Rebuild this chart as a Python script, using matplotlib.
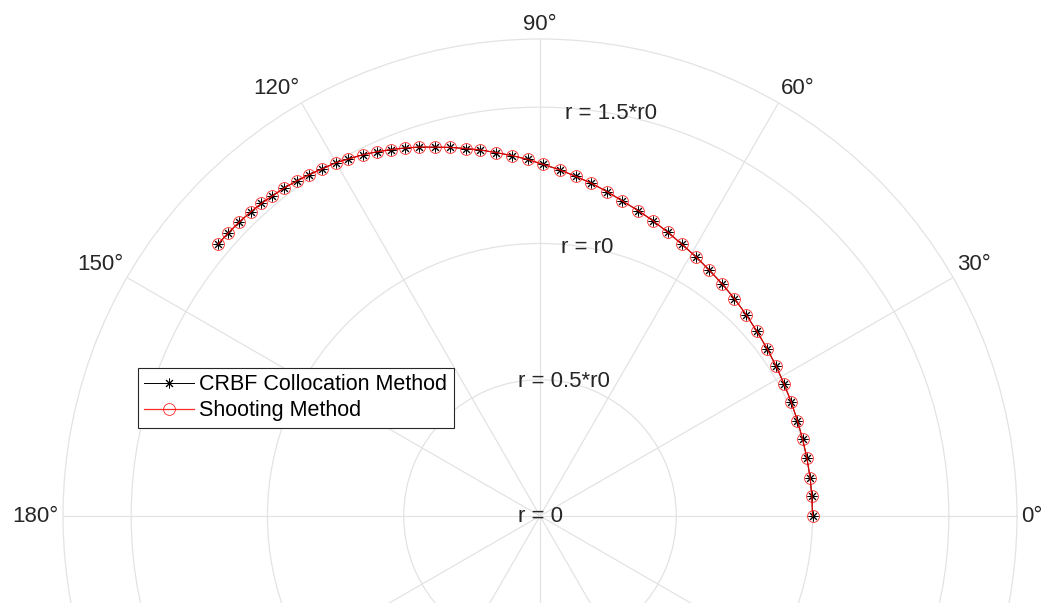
import numpy as np
import matplotlib
matplotlib.use("Agg")
import matplotlib.pyplot as plt

plt.rcParams['font.family'] = ['Liberation Sans', 'DejaVu Sans']

# angle (deg) and radius (in units of r0)
theta_deg = [0.0, 4.2, 8.1, 12.2, 16.3, 20.3, 24.4, 28.4, 32.4, 36.4,
             40.4, 44.3, 48.2, 51.8, 55.4, 59.0, 62.5, 65.8, 69.1, 72.2,
             75.4, 78.3, 81.2, 84.0, 86.7, 89.5, 92.0, 94.4, 96.9, 99.3,
             101.4, 103.7, 105.9, 108.1, 110.1, 112.1, 114.1, 116.1, 118.3, 120.0,
             122.2, 124.1, 126.0, 127.9, 129.9, 131.7, 133.6, 135.7, 137.8, 139.8]
r_crbf = [1.000, 1.000, 1.001, 1.002, 1.004, 1.007, 1.012, 1.018, 1.026, 1.035,
          1.045, 1.057, 1.070, 1.082, 1.095, 1.110, 1.125, 1.142, 1.160, 1.177,
          1.195, 1.215, 1.235, 1.253, 1.272, 1.290, 1.309, 1.326, 1.343, 1.361,
          1.375, 1.392, 1.407, 1.424, 1.438, 1.451, 1.464, 1.476, 1.487, 1.497,
          1.504, 1.512, 1.519, 1.526, 1.531, 1.536, 1.540, 1.543, 1.545, 1.546]
r_shooting = list(r_crbf)  # the two solutions lie on top of each other

r_ticks = [0, 0.5, 1.0, 1.5]
r_ticklabels = ['r = 0', 'r = 0.5*r0', 'r = r0', 'r = 1.5*r0']
r_max = 1.75
theta_ticks = list(range(0, 360, 30))
theta_labelled = [0, 30, 60, 90, 120, 150, 180]  # lower half is cropped away
series_labels = ['CRBF Collocation Method', 'Shooting Method']

text_color = '#262626'
grid_color = '#e3e3e3'

fig = plt.figure(figsize=(10.45, 6.03), dpi=100)
# polar axes is bigger than the figure, only the upper part is visible
ax = fig.add_axes([63 / 1045, -390 / 603, 954 / 1045, 954 / 603], projection='polar')

th = np.deg2rad(theta_deg)
ax.plot(th, r_crbf, color='k', lw=0.7, marker=(8, 2, 0), ms=7, mew=0.7,
        label=series_labels[0])
ax.plot(th, r_shooting, color='r', lw=0.9, marker='o', ms=8.5, mew=0.6,
        mfc='none', alpha=0.85, label=series_labels[1])

ax.set_rlim(0, r_max)
ax.set_rticks(r_ticks[1:])
ax.set_yticklabels([])
ax.set_thetagrids(theta_ticks, labels=[''] * len(theta_ticks))
ax.grid(True, color=grid_color, lw=0.9)
ax.spines['polar'].set_color(grid_color)
ax.spines['polar'].set_linewidth(0.9)
ax.tick_params(length=0)

# theta labels, aligned by edge like matlab does
for a in theta_labelled:
    c, s = np.cos(np.deg2rad(a)), np.sin(np.deg2rad(a))
    ha = 'left' if c > 0.1 else ('right' if c < -0.1 else 'center')
    va = 'bottom' if s > 0.1 else ('top' if s < -0.1 else 'center')
    ax.annotate('%d°' % a, xy=(np.deg2rad(a), r_max), xytext=(3 * c, 3 * s),
                textcoords='offset points', ha=ha, va=va, fontsize=16,
                color=text_color, annotation_clip=False)

# r labels along the 80 deg line
for rv, lab in zip(r_ticks, r_ticklabels):
    ax.text(np.deg2rad(80), rv, lab, ha='center', va='center', fontsize=16,
            color=text_color, zorder=5)

leg = ax.legend(loc='upper left', bbox_to_anchor=(138 / 1045, 1 - 368 / 603),
                bbox_transform=fig.transFigure, fontsize=15.5, fancybox=False,
                framealpha=1, edgecolor=text_color, borderpad=0.3,
                handlelength=2.3, handletextpad=0.25, labelspacing=0.22,
                borderaxespad=0, numpoints=1)
leg.get_frame().set_linewidth(0.8)
for t in leg.get_texts():
    t.set_color('k')

fig.savefig('out.png', dpi=100)
